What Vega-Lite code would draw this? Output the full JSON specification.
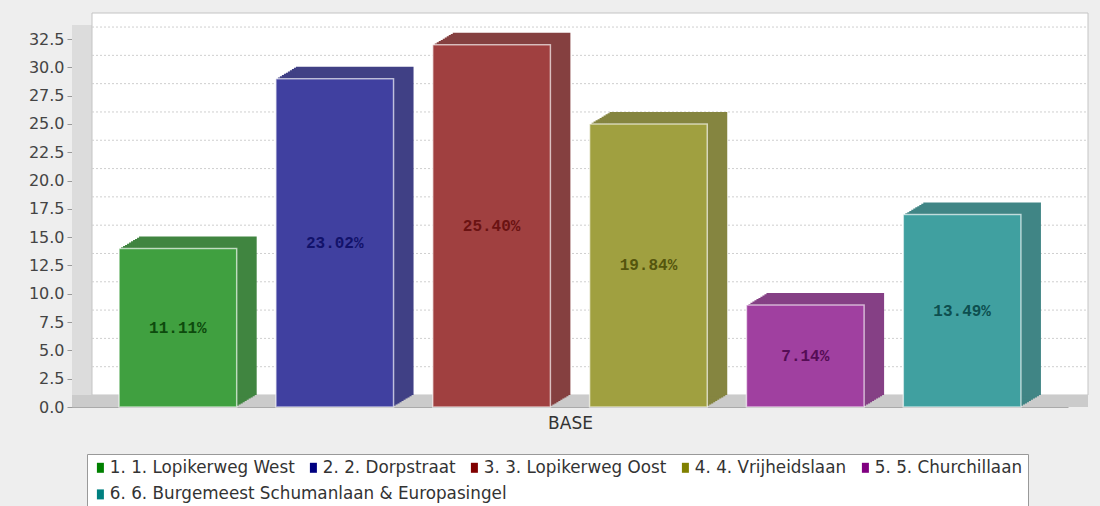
{
  "$schema": "https://vega.github.io/schema/vega-lite/v6.json",
  "width": 996,
  "height": 382,
  "autosize": {"type": "none"},
  "padding": {"left": 72, "top": 25, "right": 32, "bottom": 99},
  "background": "#eeeeee",
  "config": {
    "view": {"stroke": null},
    "font": "DejaVu Sans",
    "axisY": {"labelFontSize": 16, "labelColor": "#444444", "labelFont": "DejaVu Sans", "tickColor": "#999999", "tickSize": 5, "domainColor": "#999999", "grid": false, "labelPadding": 3},
    "axisX": {"grid": false}
  },
  "datasets": {
    "bars": [
      {"series": "1. 1. Lopikerweg West", "value": 14, "pct": "11.11%"},
      {"series": "2. 2. Dorpstraat", "value": 29, "pct": "23.02%"},
      {"series": "3. 3. Lopikerweg Oost", "value": 32, "pct": "25.40%"},
      {"series": "4. 4. Vrijheidslaan", "value": 25, "pct": "19.84%"},
      {"series": "5. 5. Churchillaan", "value": 9, "pct": "7.14%"},
      {"series": "6. 6. Burgemeest Schumanlaan & Europasingel", "value": 17, "pct": "13.49%"}
    ],
    "grid": [
      {"v": 2.5}, {"v": 5}, {"v": 7.5}, {"v": 10}, {"v": 12.5}, {"v": 15}, {"v": 17.5},
      {"v": 20}, {"v": 22.5}, {"v": 25}, {"v": 27.5}, {"v": 30}, {"v": 32.5}
    ],
    "one": [{}]
  },
  "resolve": {"scale": {"x": "independent", "y": "independent", "color": "independent"}},
  "layer": [
    {
      "data": {"name": "one"},
      "mark": {"type": "rect", "fill": "#dcdcdc"},
      "encoding": {
        "x": {"value": 0},
        "x2": {"value": "width"},
        "y": {"datum": 0, "type": "quantitative", "scale": {"domain": [0, 33.74], "nice": false},
              "axis": {"values": [0, 2.5, 5, 7.5, 10, 12.5, 15, 17.5, 20, 22.5, 25, 27.5, 30, 32.5], "format": ".1f", "title": null}},
        "y2": {"datum": 33.74}
      }
    },
    {
      "data": {"name": "one"},
      "mark": {"type": "rect", "fill": "#ffffff", "stroke": "#c4c4c4", "strokeWidth": 1, "xOffset": 20, "x2Offset": 20, "yOffset": -12, "y2Offset": -12},
      "encoding": {
        "x": {"value": 0},
        "x2": {"value": "width"},
        "y": {"datum": 0, "type": "quantitative", "scale": {"domain": [0, 33.74], "nice": false}, "axis": null},
        "y2": {"datum": 33.74}
      }
    },
    {
      "data": {"name": "grid"},
      "mark": {"type": "rule", "stroke": "#cfcfcf", "strokeWidth": 1, "strokeDash": [2, 2], "xOffset": 20, "x2Offset": 20, "yOffset": -12, "y2Offset": -12},
      "encoding": {
        "x": {"value": 0},
        "x2": {"value": "width"},
        "y": {"field": "v", "type": "quantitative", "scale": {"domain": [0, 33.74], "nice": false}, "axis": null}
      }
    },
    {
      "data": {"name": "one"},
      "mark": {"type": "rect", "fill": "#cbcbcb", "y2Offset": -12, "x2Offset": 20},
      "encoding": {
        "x": {"value": 0},
        "x2": {"value": "width"},
        "y": {"datum": 0, "type": "quantitative", "scale": {"domain": [0, 33.74], "nice": false}, "axis": null},
        "y2": {"datum": 0}
      }
    },
    {"data": {"name": "bars"}, "mark": {"type": "bar", "xOffset": 2, "yOffset": -1.2, "y2Offset": -1.2},
     "encoding": {"x": {"field": "series", "type": "nominal", "sort": null, "scale": {"paddingInner": 0.25, "paddingOuter": 0.3}, "axis": null},
                  "y": {"field": "value", "type": "quantitative", "scale": {"domain": [0, 33.74], "nice": false}, "axis": null},
                  "color": {"field": "series", "type": "nominal", "sort": null, "legend": null, "scale": {"range": ["#408540", "#404085", "#854040", "#858540", "#854085", "#408585"]}}}},
    {"data": {"name": "bars"}, "mark": {"type": "bar", "xOffset": 4, "yOffset": -2.4, "y2Offset": -2.4},
     "encoding": {"x": {"field": "series", "type": "nominal", "sort": null, "scale": {"paddingInner": 0.25, "paddingOuter": 0.3}, "axis": null},
                  "y": {"field": "value", "type": "quantitative", "scale": {"domain": [0, 33.74], "nice": false}, "axis": null},
                  "color": {"field": "series", "type": "nominal", "sort": null, "legend": null, "scale": {"range": ["#408540", "#404085", "#854040", "#858540", "#854085", "#408585"]}}}},
    {"data": {"name": "bars"}, "mark": {"type": "bar", "xOffset": 6, "yOffset": -3.6, "y2Offset": -3.6},
     "encoding": {"x": {"field": "series", "type": "nominal", "sort": null, "scale": {"paddingInner": 0.25, "paddingOuter": 0.3}, "axis": null},
                  "y": {"field": "value", "type": "quantitative", "scale": {"domain": [0, 33.74], "nice": false}, "axis": null},
                  "color": {"field": "series", "type": "nominal", "sort": null, "legend": null, "scale": {"range": ["#408540", "#404085", "#854040", "#858540", "#854085", "#408585"]}}}},
    {"data": {"name": "bars"}, "mark": {"type": "bar", "xOffset": 8, "yOffset": -4.8, "y2Offset": -4.8},
     "encoding": {"x": {"field": "series", "type": "nominal", "sort": null, "scale": {"paddingInner": 0.25, "paddingOuter": 0.3}, "axis": null},
                  "y": {"field": "value", "type": "quantitative", "scale": {"domain": [0, 33.74], "nice": false}, "axis": null},
                  "color": {"field": "series", "type": "nominal", "sort": null, "legend": null, "scale": {"range": ["#408540", "#404085", "#854040", "#858540", "#854085", "#408585"]}}}},
    {"data": {"name": "bars"}, "mark": {"type": "bar", "xOffset": 10, "yOffset": -6, "y2Offset": -6},
     "encoding": {"x": {"field": "series", "type": "nominal", "sort": null, "scale": {"paddingInner": 0.25, "paddingOuter": 0.3}, "axis": null},
                  "y": {"field": "value", "type": "quantitative", "scale": {"domain": [0, 33.74], "nice": false}, "axis": null},
                  "color": {"field": "series", "type": "nominal", "sort": null, "legend": null, "scale": {"range": ["#408540", "#404085", "#854040", "#858540", "#854085", "#408585"]}}}},
    {"data": {"name": "bars"}, "mark": {"type": "bar", "xOffset": 12, "yOffset": -7.2, "y2Offset": -7.2},
     "encoding": {"x": {"field": "series", "type": "nominal", "sort": null, "scale": {"paddingInner": 0.25, "paddingOuter": 0.3}, "axis": null},
                  "y": {"field": "value", "type": "quantitative", "scale": {"domain": [0, 33.74], "nice": false}, "axis": null},
                  "color": {"field": "series", "type": "nominal", "sort": null, "legend": null, "scale": {"range": ["#408540", "#404085", "#854040", "#858540", "#854085", "#408585"]}}}},
    {"data": {"name": "bars"}, "mark": {"type": "bar", "xOffset": 14, "yOffset": -8.4, "y2Offset": -8.4},
     "encoding": {"x": {"field": "series", "type": "nominal", "sort": null, "scale": {"paddingInner": 0.25, "paddingOuter": 0.3}, "axis": null},
                  "y": {"field": "value", "type": "quantitative", "scale": {"domain": [0, 33.74], "nice": false}, "axis": null},
                  "color": {"field": "series", "type": "nominal", "sort": null, "legend": null, "scale": {"range": ["#408540", "#404085", "#854040", "#858540", "#854085", "#408585"]}}}},
    {"data": {"name": "bars"}, "mark": {"type": "bar", "xOffset": 16, "yOffset": -9.6, "y2Offset": -9.6},
     "encoding": {"x": {"field": "series", "type": "nominal", "sort": null, "scale": {"paddingInner": 0.25, "paddingOuter": 0.3}, "axis": null},
                  "y": {"field": "value", "type": "quantitative", "scale": {"domain": [0, 33.74], "nice": false}, "axis": null},
                  "color": {"field": "series", "type": "nominal", "sort": null, "legend": null, "scale": {"range": ["#408540", "#404085", "#854040", "#858540", "#854085", "#408585"]}}}},
    {"data": {"name": "bars"}, "mark": {"type": "bar", "xOffset": 18, "yOffset": -10.8, "y2Offset": -10.8},
     "encoding": {"x": {"field": "series", "type": "nominal", "sort": null, "scale": {"paddingInner": 0.25, "paddingOuter": 0.3}, "axis": null},
                  "y": {"field": "value", "type": "quantitative", "scale": {"domain": [0, 33.74], "nice": false}, "axis": null},
                  "color": {"field": "series", "type": "nominal", "sort": null, "legend": null, "scale": {"range": ["#408540", "#404085", "#854040", "#858540", "#854085", "#408585"]}}}},
    {"data": {"name": "bars"}, "mark": {"type": "bar", "xOffset": 20, "yOffset": -12, "y2Offset": -12},
     "encoding": {"x": {"field": "series", "type": "nominal", "sort": null, "scale": {"paddingInner": 0.25, "paddingOuter": 0.3}, "axis": null},
                  "y": {"field": "value", "type": "quantitative", "scale": {"domain": [0, 33.74], "nice": false}, "axis": null},
                  "color": {"field": "series", "type": "nominal", "sort": null, "legend": null, "scale": {"range": ["#408540", "#404085", "#854040", "#858540", "#854085", "#408585"]}}}},
    {"data": {"name": "bars"}, "mark": {"type": "bar", "fill": "#ffffff"},
     "encoding": {"x": {"field": "series", "type": "nominal", "sort": null, "scale": {"paddingInner": 0.25, "paddingOuter": 0.3}, "axis": null},
                  "y": {"field": "value", "type": "quantitative", "scale": {"domain": [0, 33.74], "nice": false}, "axis": null}}},
    {
      "data": {"name": "bars"},
      "mark": {"type": "bar", "fillOpacity": 0.75, "stroke": "#ffffff", "strokeOpacity": 0.6, "strokeWidth": 1.5},
      "encoding": {
        "x": {"field": "series", "type": "nominal", "sort": null, "scale": {"paddingInner": 0.25, "paddingOuter": 0.3},
              "axis": {"labels": false, "ticks": false, "domain": true, "domainColor": "#aaaaaa", "title": "BASE", "titleFontSize": 17, "titleFontWeight": "normal", "titleColor": "#333333", "titlePadding": 8}},
        "y": {"field": "value", "type": "quantitative", "scale": {"domain": [0, 33.74], "nice": false}, "axis": null},
        "color": {"field": "series", "type": "nominal", "sort": null,
                  "scale": {"range": ["#008000", "#000080", "#800000", "#808000", "#800080", "#008080"]},
                  "legend": {"values": ["1. 1. Lopikerweg West", "2. 2. Dorpstraat", "3. 3. Lopikerweg Oost", "4. 4. Vrijheidslaan", "5. 5. Churchillaan"],
                             "title": " ", "titleOrient": "bottom", "titleFontSize": 20, "titlePadding": 4,
                             "orient": "none", "legendX": 15, "legendY": 429, "direction": "horizontal",
                             "symbolType": "M-0.7,-1H0.7V1H-0.7Z", "symbolSize": 100, "symbolOpacity": 1, "symbolStrokeWidth": 0,
                             "labelFontSize": 16.8, "labelColor": "#333333", "labelFont": "DejaVu Sans", "labelLimit": 600, "labelOffset": 1,
                             "columnPadding": 10, "padding": 5, "strokeColor": "#999999", "fillColor": "#ffffff"}}
      }
    },
    {
      "data": {"name": "bars"},
      "mark": {"type": "text", "text": " "},
      "encoding": {
        "x": {"field": "series", "type": "nominal", "sort": null, "scale": {"type": "band", "paddingInner": 0.25, "paddingOuter": 0.3}, "axis": null},
        "y": {"field": "value", "type": "quantitative", "scale": {"domain": [0, 33.74], "nice": false}, "axis": null},
        "color": {"field": "series", "type": "nominal", "sort": null,
                  "scale": {"range": ["#008000", "#000080", "#800000", "#808000", "#800080", "#008080"]},
                  "legend": {"values": ["6. 6. Burgemeest Schumanlaan & Europasingel"], "title": null,
                             "orient": "none", "legendX": 20, "legendY": 461, "direction": "horizontal",
                             "symbolType": "M-0.7,-1H0.7V1H-0.7Z", "symbolSize": 100, "symbolOpacity": 1, "symbolStrokeWidth": 0,
                             "labelFontSize": 16.8, "labelColor": "#333333", "labelFont": "DejaVu Sans", "labelLimit": 600, "labelOffset": 1,
                             "padding": 0}}
      }
    },
    {
      "data": {"name": "bars"},
      "mark": {"type": "text", "font": "Liberation Mono", "fontWeight": "bold", "fontSize": 16, "align": "center", "baseline": "middle"},
      "encoding": {
        "x": {"field": "series", "type": "nominal", "sort": null, "scale": {"type": "band", "paddingInner": 0.25, "paddingOuter": 0.3}, "axis": null},
        "y": {"field": "value", "type": "quantitative", "axis": null, "scale": {"domain": [0, 67.48], "nice": false}},
        "text": {"field": "pct"},
        "color": {"field": "series", "type": "nominal", "sort": null, "legend": null,
                  "scale": {"range": ["#0d4a0d", "#12126a", "#6a1212", "#55550d", "#550d55", "#0d4f4f"]}}
      }
    }
  ]
}
